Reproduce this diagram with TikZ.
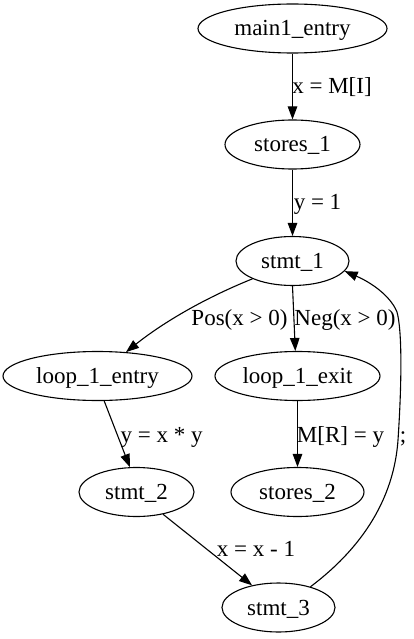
\documentclass[tikz,border=0pt]{standalone}
\usepackage{fontspec}
\setmainfont{Liberation Serif}
\usetikzlibrary{shapes.geometric,arrows.meta}
\tikzset{
  gnode/.style={draw, ellipse, line width=1.1pt, inner sep=0pt, minimum height=49pt,
    font=\fontsize{23}{27}\selectfont, text height=15pt, text depth=0pt},
  glabel/.style={inner sep=0pt, font=\fontsize{23}{27}\selectfont, text height=15pt, text depth=0pt},
  gedge/.style={line width=1.1pt, -{Triangle[length=13pt,width=9.5pt]}}
}
\begin{document}
\begin{tikzpicture}[x=1pt,y=-1pt]
\useasboundingbox (0,0) rectangle (413,639);
\node[gnode, minimum width=189pt] (main) at (292.5,28.5) {main1\_entry};
\node[gnode, minimum width=135pt] (st1) at (292.5,144.5) {stores\_1};
\node[gnode, minimum width=113pt] (s1) at (292.5,261) {stmt\_1};
\node[gnode, minimum width=189pt] (le) at (97.5,376) {loop\_1\_entry};
\node[gnode, minimum width=165pt] (lx) at (297.5,376) {loop\_1\_exit};
\node[gnode, minimum width=115pt] (s2) at (136.5,492) {stmt\_2};
\node[gnode, minimum width=133pt] (st2) at (297.5,492) {stores\_2};
\node[gnode, minimum width=113pt] (s3) at (278.5,607.5) {stmt\_3};

\draw[gedge] (main.south) -- (st1.north);
\draw[gedge] (st1.south) -- (s1.north);
\draw[gedge] (s1.-156) .. controls (200,300) and (160,325) .. (le.40);
\draw[gedge] (s1.-90) -- (lx.95);
\draw[gedge] (le.-75) -- (s2.105);
\draw[gedge] (lx.south) -- (st2.north);
\draw[gedge] (s2.-40) -- (s3.140);
\draw[gedge] (s3.33) .. controls (350,557) and (393,510) .. (398,440)
  .. controls (402,380) and (402,330) .. (397,312)
  .. controls (390,295) and (370,282) .. (s1.-11);

\node[glabel] (l1) at (332,86) {x = M[I]};
\node[glabel] (l2) at (317.5,202) {y = 1};
\node[glabel] (l3) at (239.5,318) {Pos(x > 0)};
\node[glabel] (l4) at (345,318) {Neg(x > 0)};
\node[glabel] (l5) at (161.7,435) {y = x * y};
\node[glabel] (l6) at (340.5,435) {M[R] = y};
\node[glabel] (l7) at (403,435) {;};
\node[glabel] (l8) at (256,549) {x = x - 1};
\end{tikzpicture}
\end{document}
